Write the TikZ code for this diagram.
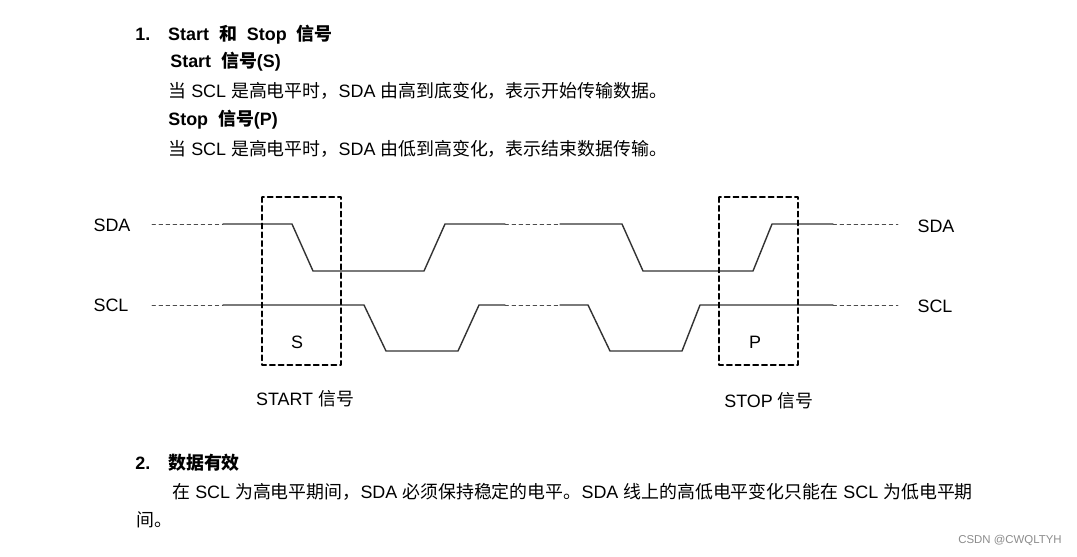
\documentclass[tikz,border=0pt]{standalone}
\usepackage{fontspec}
\setmainfont{Liberation Sans}
\newfontfamily\cjk{Noto Sans CJK SC}
\newcommand{\zh}[1]{{\cjk #1}}
\usetikzlibrary{positioning}

\begin{document}
\begin{tikzpicture}[line cap=round,line join=round,x=0.02cm,y=-0.02cm,
  font=\fontsize{10.2}{12}\selectfont,
  wave/.style={line width=0.8pt,color=black!80},
  idle/.style={dashed,dash pattern=on 2pt off 2pt,line width=0.5pt,color=black!70},
  window/.style={dashed,dash pattern=on 3pt off 2pt,line width=0.9pt},
  txt/.style={anchor=west,inner sep=0pt},
  head/.style={txt,font=\fontsize{10.2}{12}\bfseries}]
\useasboundingbox[fill=white] (0,0) rectangle (1077,556);
% heading text
\node[head] (h1) at (135,35) {1.\quad Start\ \ \zh{和}\ \ Stop\ \ \zh{信号}};
\node[head] (h1a) at (170,62) {Start\ \ \zh{信号}(S)};
\node[txt] (t1) at (168,91) {\zh{当} SCL \zh{是高电平时，}SDA \zh{由高到底变化，表示开始传输数据。}};
\node[head] (h1b) at (168,120) {Stop\ \ \zh{信号}(P)};
\node[txt] (t2) at (168,149) {\zh{当} SCL \zh{是高电平时，}SDA \zh{由低到高变化，表示结束数据传输。}};
% signal names
\node (sdaL) at (112,225) {SDA};
\node (sclL) at (111,305) {SCL};
\node (sdaR) at (936,226) {SDA};
\node (sclR) at (935,306) {SCL};
% SDA
\draw[idle] (152,224) -- (223,224);
\draw[wave] (223,224) -- (292,224) -- (313,271) -- (424,271) -- (445,224) -- (505,224);
\draw[idle] (505,224) -- (560,224);
\draw[wave] (560,224) -- (622,224) -- (643,271) -- (753,271) -- (772,224) -- (833,224);
\draw[idle] (833,224) -- (898,224);
% SCL
\draw[idle] (152,305) -- (223,305);
\draw[wave] (223,305) -- (364,305) -- (386,351) -- (458,351) -- (479,305) -- (505,305);
\draw[idle] (505,305) -- (560,305);
\draw[wave] (560,305) -- (588,305) -- (610,351) -- (682,351) -- (700,305) -- (833,305);
\draw[idle] (833,305) -- (898,305);
% start / stop windows
\draw[window] (262,197) rectangle (341,365);
\draw[window] (719,197) rectangle (798,365);
\node (s) at (297,342) {S};
\node (p) at (755,342) {P};
\node (start) at (305,399) {START \zh{信号}};
\node (stop) at (769,401) {STOP \zh{信号}};
% data valid
\node[head] (h2) at (135,463) {2.\quad \zh{数据有效}};
\node[txt] (t3) at (172,492) {\zh{在} SCL \zh{为高电平期间，}SDA \zh{必须保持稳定的电平。}SDA \zh{线上的高低电平变化只能在} SCL \zh{为低电平期}};
\node[txt] (t4) at (136,520) {\zh{间。}};
\node[anchor=east,inner sep=0pt,font=\fontsize{6.5}{7}\selectfont,color=black!45] (wm) at (1062,540) {CSDN @CWQLTYH};
\end{tikzpicture}
\end{document}
